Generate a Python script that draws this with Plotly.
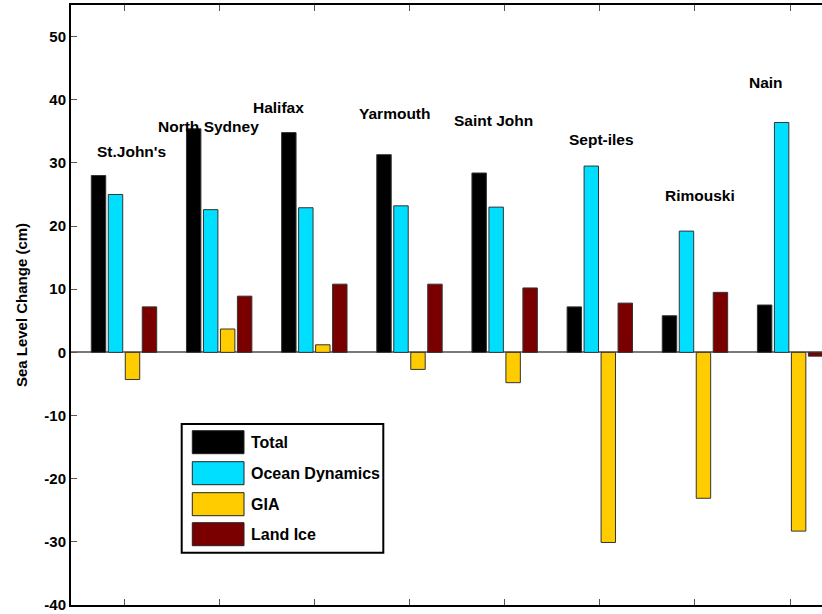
import plotly.graph_objects as go

stations = ["St.John's", "North Sydney", "Halifax", "Yarmouth",
            "Saint John", "Sept-iles", "Rimouski", "Nain"]

total = [28.0, 35.4, 34.8, 31.3, 28.4, 7.2, 5.8, 7.5]
ocean_dynamics = [25.0, 22.6, 22.9, 23.2, 23.0, 29.5, 19.2, 36.4]
gia = [-4.3, 3.7, 1.2, -2.7, -4.8, -30.1, -23.1, -28.3]
land_ice = [7.2, 8.9, 10.8, 10.8, 10.2, 7.8, 9.5, -0.6]

series_names = ["Total", "Ocean Dynamics", "GIA", "Land Ice"]
series_values = [total, ocean_dynamics, gia, land_ice]
series_colors = ["#000000", "#00DFFF", "#FFCC00", "#7A0000"]

# station label placement (offset from category index, y in data units)
label_dx = [0.077, -0.114, -0.381, -0.16, -0.121, 0.02, 0.05, -0.25]
label_y = [31.8, 35.8, 38.8, 37.8, 36.7, 33.7, 24.8, 42.8]

y_ticks = [-40, -30, -20, -10, 0, 10, 20, 30, 40, 50]
y_tick_text = ["-40", "-30", "-20", "-10", "0", "10", "20", "30", "40", "50"]

FONT = "Liberation Sans, Arial, Helvetica, sans-serif"

fig = go.Figure()
for name, vals, col in zip(series_names, series_values, series_colors):
    fig.add_trace(go.Bar(
        x=stations, y=vals, name=name,
        marker=dict(color=col, line=dict(color="#333333", width=1)),
        showlegend=False,
    ))

annotations = []
for i, (st, dx, yy) in enumerate(zip(stations, label_dx, label_y)):
    annotations.append(dict(
        x=i + dx, y=yy, xref="x", yref="y", text="<b>" + st + "</b>", showarrow=False,
        xanchor="center", yanchor="middle",
        font=dict(family=FONT, size=15.5, color="black"),
    ))

# custom legend (paper coords)
L, R, B, T = 71, 822, 605, 5
W, H = R - L, B - T
def px(x):
    return (x - L) / W
def py(y):
    return (B - y) / H

shapes = [dict(type="rect", xref="paper", yref="paper",
               x0=px(181.7), x1=px(383.3), y0=py(552.7), y1=py(424),
               line=dict(color="black", width=2), fillcolor="white", layer="above")]
row_tops = [430.7, 461.7, 492.7, 522.7]
for name, col, top in zip(series_names, series_colors, row_tops):
    shapes.append(dict(type="rect", xref="paper", yref="paper",
                       x0=px(192.3), x1=px(244), y0=py(top + 23), y1=py(top),
                       line=dict(color="#222222", width=1), fillcolor=col, layer="above"))
    annotations.append(dict(x=px(248.5), y=py(top + 11.5), xref="paper", yref="paper",
                            text="<b>" + name + "</b>", showarrow=False,
                            xanchor="left", yanchor="middle",
                            font=dict(family=FONT, size=16, color="black")))

fig.update_layout(
    width=822, height=614,
    margin=dict(l=L, r=0, t=T, b=614 - B),
    paper_bgcolor="white", plot_bgcolor="white",
    barmode="group", bargap=0.286, bargroupgap=0.15,
    font=dict(family=FONT, color="black"),
    shapes=shapes, annotations=annotations,
)
fig.update_xaxes(
    type="category", range=[-0.557, 7.335],
    showticklabels=False, ticks="inside", ticklen=6, tickwidth=1, tickcolor="#555555",
    showline=True, linecolor="black", linewidth=2, mirror="ticks",
    showgrid=False, zeroline=False,
)
fig.update_yaxes(
    range=[-40, 55], tickvals=y_ticks, ticktext=y_tick_text,
    ticks="inside", ticklen=6, tickwidth=1,
    tickcolor="#555555", showline=True, linecolor="black", linewidth=2, mirror=False,
    showgrid=False, zeroline=True, zerolinecolor="#7a7a7a", zerolinewidth=1.5,
    tickfont=dict(family=FONT, size=15, color="black", weight="bold"),
    title=dict(text="<b>Sea Level Change (cm)</b>", standoff=13,
               font=dict(family=FONT, size=15, color="black")),
)

fig.write_html("out.html",
               config={"displayModeBar": False},
               post_script="document.body.style.margin='0';document.body.style.overflow='hidden';")
